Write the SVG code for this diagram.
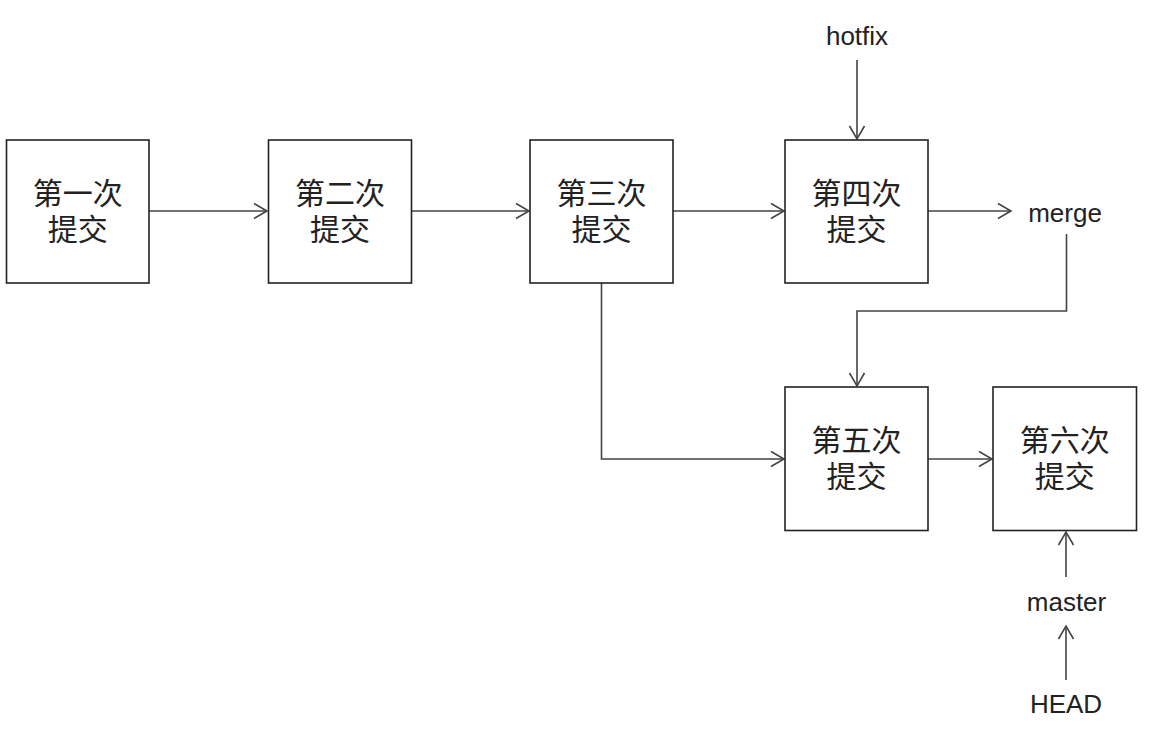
<svg xmlns="http://www.w3.org/2000/svg" width="1149" height="730" viewBox="0 0 1149 730">
<style>
.box{fill:#fff;stroke:#222;stroke-width:1.6}
.zh{font-family:"Liberation Sans","Noto Sans CJK SC","Noto Sans CJK JP",sans-serif;font-size:30px;fill:#222;text-anchor:middle}
.lbl{font-family:"Liberation Sans",Arial,sans-serif;font-size:26px;fill:#222;text-anchor:middle}
.c{fill:none;stroke:#444;stroke-width:1.6;marker-end:url(#ah)}
</style>
<defs>
<marker id="ah" markerUnits="userSpaceOnUse" markerWidth="30" markerHeight="30" viewBox="-15 -15 30 30" refX="0" refY="0" orient="auto">
<path d="M-13,-7.5 L0,0 L-13,7.5" fill="none" stroke="#444" stroke-width="1.6"/>
</marker>
</defs>
<rect width="1149" height="730" fill="#fff"/>
<g id="connectors">
<path class="c" d="M149,211 H267"/>
<path class="c" d="M411.5,211 H529"/>
<path class="c" d="M673,211 H784"/>
<path class="c" d="M928,211 H1011"/>
<path class="c" d="M857,60 V139"/>
<path class="c" d="M1066.5,234 V311 H857 V386"/>
<path class="c" d="M601.5,283 V459 H784"/>
<path class="c" d="M928,459 H992"/>
<path class="c" d="M1066,577 V532"/>
<path class="c" d="M1066,680 V626"/>
</g>
<g id="n1"><rect class="box" x="6.5" y="140" width="142.5" height="143"/><text class="zh"><tspan x="77.75" y="204">第一次</tspan><tspan x="77.75" y="239.5">提交</tspan></text></g>
<g id="n2"><rect class="box" x="268.5" y="140" width="143" height="143"/><text class="zh"><tspan x="340" y="204">第二次</tspan><tspan x="340" y="239.5">提交</tspan></text></g>
<g id="n3"><rect class="box" x="530" y="140" width="143" height="143"/><text class="zh"><tspan x="601.5" y="204">第三次</tspan><tspan x="601.5" y="239.5">提交</tspan></text></g>
<g id="n4"><rect class="box" x="785" y="140" width="143" height="143"/><text class="zh"><tspan x="856.5" y="204">第四次</tspan><tspan x="856.5" y="239.5">提交</tspan></text></g>
<g id="n5"><rect class="box" x="785" y="387" width="143" height="143.5"/><text class="zh"><tspan x="856.5" y="451">第五次</tspan><tspan x="856.5" y="486.5">提交</tspan></text></g>
<g id="n6"><rect class="box" x="993" y="387" width="143.5" height="143.5"/><text class="zh"><tspan x="1064.75" y="451">第六次</tspan><tspan x="1064.75" y="486.5">提交</tspan></text></g>
<g id="hotfix"><text class="lbl" x="857" y="45">hotfix</text></g>
<g id="merge"><text class="lbl" x="1065" y="221.5">merge</text></g>
<g id="master"><text class="lbl" x="1066.5" y="610.5">master</text></g>
<g id="head"><text class="lbl" x="1066" y="712.5">HEAD</text></g>
</svg>
